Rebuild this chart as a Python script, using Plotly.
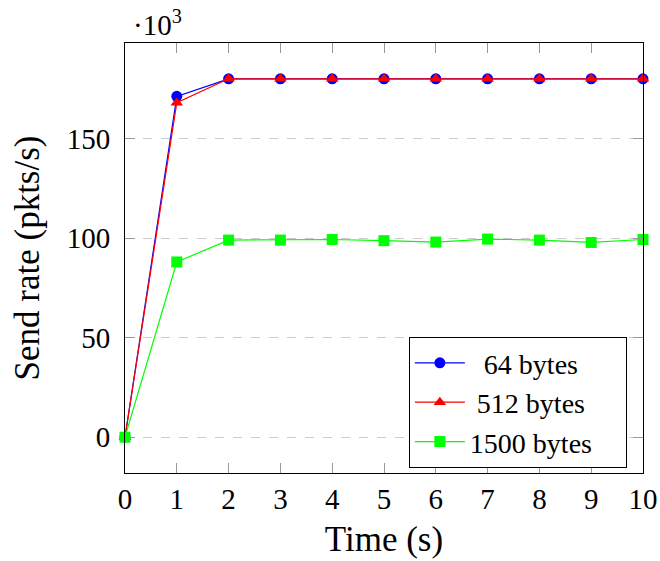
import plotly.graph_objects as go

time_s = [0, 1, 2, 3, 4, 5, 6, 7, 8, 9, 10]
rate_64 = [0, 171.2, 180, 180, 180, 180, 180, 180, 180, 180, 180]
rate_512 = [0, 168, 180, 180, 180, 180, 180, 180, 180, 180, 180]
rate_1500 = [0, 88, 99, 99, 99.3, 98.7, 98.0, 99.5, 99.0, 97.8, 99.3]
names = ["64 bytes", "512 bytes", "1500 bytes"]

NB = "\u00a0"
pads = [(2, 6), (1, 5), (0, 4)]
styles = [("#0000ff", "circle", 11), ("#ff0000", "triangle-up", 11), ("#00ff00", "square", 11)]
values = [rate_64, rate_512, rate_1500]

FONT = "Liberation Serif"
FS = 29
fig = go.Figure()
for name, (lp, rp), vals, (col, sym, sz) in zip(names, pads, values, styles):
    fig.add_trace(go.Scatter(
        x=time_s, y=vals, name=NB * lp + name + NB * rp, mode="lines+markers",
        line=dict(color=col, width=1.2),
        marker=dict(color=col, symbol=sym, size=sz, line=dict(width=0)),
        cliponaxis=False,
    ))

fig.update_layout(
    width=660, height=561,
    margin=dict(l=125, r=17, t=43, b=88, autoexpand=False),
    plot_bgcolor="white", paper_bgcolor="white",
    font=dict(family=FONT, size=FS, color="black"),
    showlegend=True,
    legend=dict(
        x=0.548, y=0.316, xanchor="left", yanchor="top",
        bgcolor="white", bordercolor="black", borderwidth=1,
        font=dict(size=28), itemwidth=50, tracegroupgap=0,
    ),
    xaxis=dict(
        range=[0, 10], tickvals=time_s, ticks="inside", ticklen=10,
        tickcolor="#999999", showline=True, linecolor="black", linewidth=1,
        mirror="ticks", showgrid=False, zeroline=False, automargin=False,
        title=dict(text="Time (s)", standoff=12),
    ),
    yaxis=dict(
        range=[-18, 198], tickvals=[0, 50, 100, 150], ticks="inside", ticklen=10,
        tickcolor="#999999", showline=True, linecolor="black", linewidth=1,
        mirror="ticks", showgrid=True, gridcolor="#cccccc", griddash="dash",
        zeroline=False, ticklabelstandoff=8, automargin=False,
        title=dict(text="Send rate (pkts/s)", standoff=16),
    ),
)
fig.add_annotation(
    xref="paper", yref="paper", x=0, y=1, xanchor="left", yanchor="bottom",
    xshift=6, yshift=0, showarrow=False,
    text="·10<sup>3</sup>", font=dict(size=FS),
)
fig.write_html(
    "out.html",
    config={"displayModeBar": False},
    post_script="document.body.style.margin='0';document.body.style.overflow='hidden';",
)
